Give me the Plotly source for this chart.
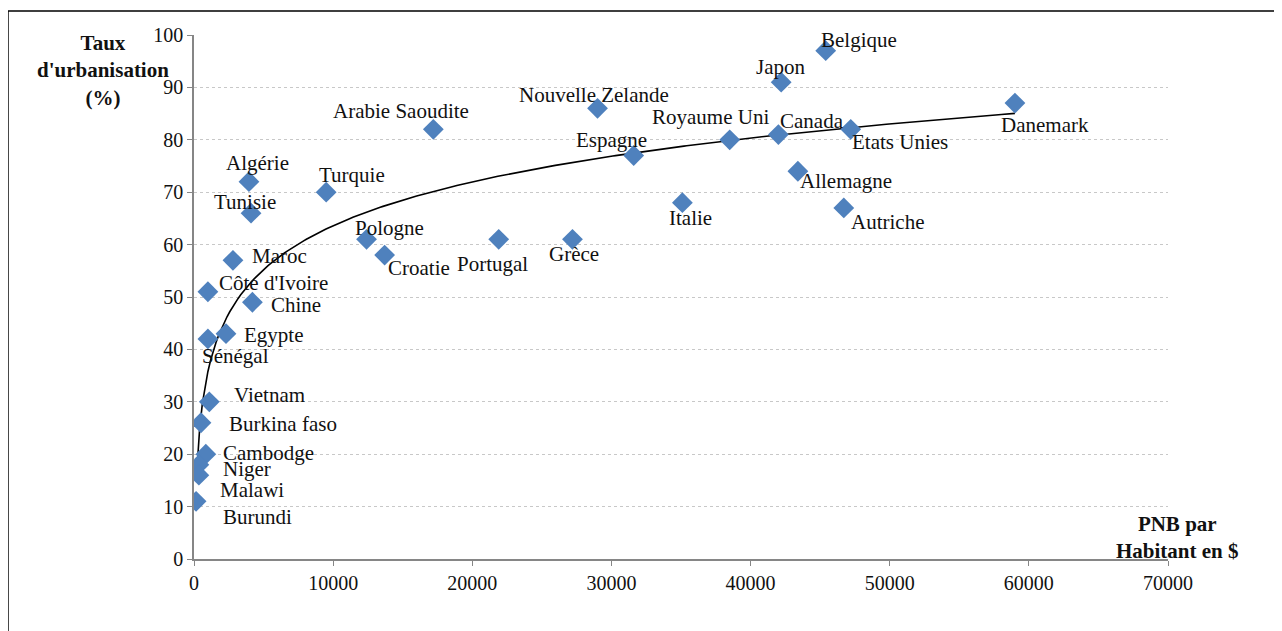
import numpy as np
import plotly.graph_objects as go

# Data
countries = ["Belgique", "Japon", "Nouvelle Zelande", "Arabie Saoudite", "Royaume Uni",
             "Canada", "Etats Unies", "Danemark", "Espagne", "Allemagne", "Italie",
             "Autriche", "Turquie", "Algérie", "Tunisie", "Pologne", "Croatie",
             "Portugal", "Grèce", "Maroc", "Côte d'Ivoire", "Chine", "Egypte",
             "Sénégal", "Vietnam", "Burkina faso", "Cambodge", "Niger", "Malawi", "Burundi"]
pnb = [45400, 42200, 29000, 17200, 38500,
       42000, 47200, 59000, 31600, 43400, 35100,
       46700, 9500, 3950, 4100, 12400, 13700,
       21900, 27200, 2800, 1000, 4200, 2300,
       1000, 1100, 500, 850, 350, 350, 150]
urban = [97, 91, 86, 82, 80,
         81, 82, 87, 77, 74, 68,
         67, 70, 72, 66, 61, 58,
         61, 61, 57, 51, 49, 43,
         42, 30, 26, 20, 18, 16, 11]

# Label offsets in pixels (dx right, dy up) - layout only
label_dx = [33, -1, -4, -32, -19, 34, 49, 30, -22, 48, 8, 44, 26, 9, -6, 23, 34,
            -6, 2, 47, 66, 44, 47, 28, 60, 82, 63, 48, 53, 61]
label_dy = [11, 15, 13, 18, 23, 14, -13, -22, 16, -10, -15, -14, 17, 19, 11, 11, -13,
            -25, -15, 4, 9, -3, -1, -17, 7, -1, 1, -4, -15, -16]

serif = "Liberation Serif, Times New Roman, serif"

# Logarithmic trend line fitted on the data
a, b = np.polyfit(np.log(pnb), urban, 1)
xt = np.linspace(min(pnb) * 1.4, max(pnb), 300)
yt = a * np.log(xt) + b

fig = go.Figure()
fig.add_trace(go.Scatter(x=xt, y=yt, mode="lines",
                         line=dict(color="black", width=1.6), hoverinfo="skip"))
fig.add_trace(go.Scatter(x=pnb, y=urban, mode="markers",
                         marker=dict(symbol="diamond", size=16, color="#4F81BD",
                                     line=dict(width=0)),
                         text=countries))

for name, x, y, dx, dy in zip(countries, pnb, urban, label_dx, label_dy):
    fig.add_annotation(x=x, y=y, xref="x", yref="y", text=name, showarrow=False,
                       xshift=dx, yshift=dy, xanchor="center", yanchor="middle",
                       font=dict(family=serif, size=21, color="#111111"))

fig.add_annotation(xref="paper", yref="paper", x=0, y=1, xshift=-91, yshift=-35,
                   text="<b>Taux<br>d'urbanisation<br>(%)</b>", showarrow=False,
                   xanchor="center", yanchor="middle", align="center",
                   font=dict(family=serif, size=21, color="#111111"))
fig.add_annotation(xref="paper", yref="paper", x=1, y=0, xshift=9, yshift=22,
                   text="<b>PNB par<br>Habitant en $</b>", showarrow=False,
                   xanchor="center", yanchor="middle", align="center",
                   font=dict(family=serif, size=21, color="#111111"))

fig.add_shape(type="rect", xref="paper", yref="paper",
              x0=-0.191, x1=1.1125, y0=-0.2, y1=1.0458,
              line=dict(color="black", width=1.5), layer="below")

fig.update_layout(
    width=1274, height=623,
    margin=dict(l=186, r=114, t=27, b=72),
    paper_bgcolor="white", plot_bgcolor="white",
    showlegend=False,
    font=dict(family=serif, size=20, color="#111111"),
    xaxis=dict(range=[0, 70000], tickvals=[0, 10000, 20000, 30000, 40000, 50000, 60000, 70000],
               ticktext=["0", "10000", "20000", "30000", "40000", "50000", "60000", "70000"],
               showgrid=False, zeroline=False, showline=True, linecolor="#868686",
               linewidth=1.5, ticks="outside", ticklen=5, tickcolor="#868686",
               tickfont=dict(family=serif, size=20, color="#111111")),
    yaxis=dict(range=[0, 100], dtick=10, showgrid=True, gridcolor="#C8C8C8",
               griddash="dot", gridwidth=1, zeroline=False, showline=True,
               linecolor="#868686", linewidth=1.5, ticks="outside", ticklen=5,
               tickcolor="#868686",
               tickfont=dict(family=serif, size=20, color="#111111")),
)

fig.write_html("out.html")
